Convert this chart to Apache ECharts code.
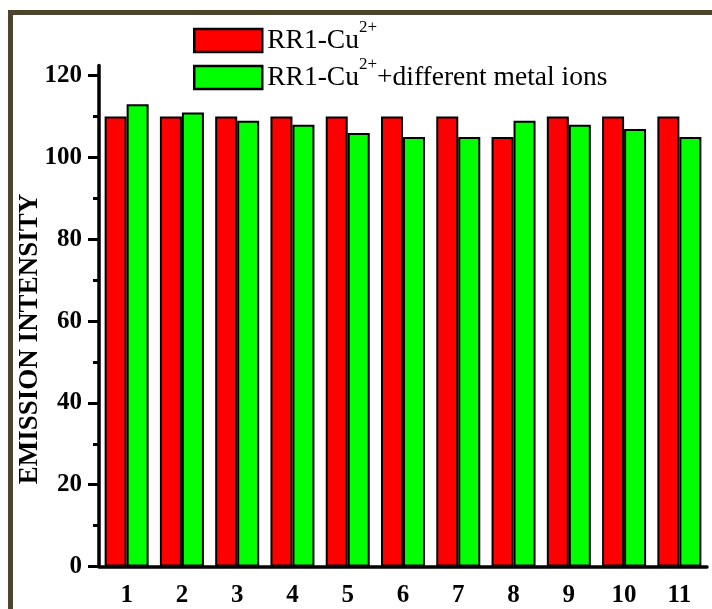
<!DOCTYPE html>
<html>
<head>
<meta charset="utf-8">
<script src="https://cdn.jsdelivr.net/npm/echarts@6/dist/echarts.min.js"></script>
<style>
  html, body { margin: 0; padding: 0; background: #fff; }
  #chart { width: 712px; height: 609px; }
</style>
</head>
<body>
<div id="chart"></div>
<script>
// Sample numbers on the x axis
const categories = ['1', '2', '3', '4', '5', '6', '7', '8', '9', '10', '11'];
// Emission intensity of the copper complex alone
const copperOnly = [110, 110, 110, 110, 110, 110, 110, 105, 110, 110, 110];
// Emission intensity after adding the other metal ions
const withMetalIons = [113, 111, 109, 108, 106, 105, 105, 109, 108, 107, 105];
// Y axis tick values
const majorTicks = [0, 20, 40, 60, 80, 100, 120];
const minorTicks = [10, 30, 50, 70, 90, 110];
const seriesNames = ['RR1-Cu2+', 'RR1-Cu2+ + different metal ions'];

const serif = '"Liberation Serif", "Times New Roman", serif';
const chart = echarts.init(document.getElementById('chart'));

chart.setOption({
  animation: false,
  backgroundColor: '#fff',
  grid: { left: 99, right: 5, top: 65.5, bottom: 42.5, containLabel: false, outerBoundsMode: 'none' },
  legend: {
    orient: 'vertical',
    left: 193,
    top: 19.5,
    padding: 0,
    icon: 'rect',
    itemWidth: 68,
    itemHeight: 23,
    itemGap: 1,
    selectedMode: false,
    itemStyle: { borderColor: '#000', borderWidth: 2.5 },
    formatter: name => name === seriesNames[0]
      ? '{a|RR1-Cu}{s|2+}'
      : '{a|RR1-Cu}{s|2+}{a|+different metal ions}',
    textStyle: {
      rich: {
        a: { fontFamily: serif, fontSize: 27.5, lineHeight: 30, color: '#000' },
        // raised charge label
        s: { fontFamily: serif, fontSize: 17, lineHeight: 6, verticalAlign: 'bottom', padding: [0, 0, 19, 0], color: '#000' }
      }
    }
  },
  xAxis: [
    {
      type: 'category',
      data: categories,
      position: 'bottom',
      axisLine: { lineStyle: { color: '#000', width: 3.5 } },
      axisTick: { alignWithLabel: true, length: 11, lineStyle: { color: '#000', width: 3 } },
      axisLabel: { fontFamily: serif, fontWeight: 'bold', fontSize: 25, color: '#000', margin: 17 },
      splitLine: { show: false }
    },
    {
      // short ticks on the category boundaries
      type: 'category',
      data: categories,
      position: 'bottom',
      axisLine: { show: false },
      axisTick: { length: 6, lineStyle: { color: '#000', width: 3 } },
      axisLabel: { show: false },
      splitLine: { show: false }
    }
  ],
  yAxis: [
    {
      type: 'value',
      min: 0,
      max: 122.5,
      position: 'left',
      axisLine: { show: true, lineStyle: { color: '#000', width: 3.5 } },
      axisTick: { show: true, length: 11, customValues: majorTicks, lineStyle: { color: '#000', width: 3 } },
      axisLabel: { customValues: majorTicks, fontFamily: serif, fontWeight: 'bold', fontSize: 25, color: '#000', margin: 17 },
      splitLine: { show: false }
    },
    {
      // minor ticks between labelled values
      type: 'value',
      min: 0,
      max: 122.5,
      position: 'left',
      axisLine: { show: false },
      axisTick: { show: true, length: 6, customValues: minorTicks, lineStyle: { color: '#000', width: 3 } },
      axisLabel: { show: false },
      splitLine: { show: false }
    }
  ],
  series: [
    {
      type: 'bar',
      name: seriesNames[0],
      data: copperOnly,
      barWidth: 22,
      barGap: '0%',
      itemStyle: { color: '#ff0000', borderColor: '#000', borderWidth: 2 }
    },
    {
      type: 'bar',
      name: seriesNames[1],
      data: withMetalIons,
      barWidth: 22,
      barGap: '0%',
      itemStyle: { color: '#00ff00', borderColor: '#000', borderWidth: 2 }
    }
  ],
  graphic: [
    {
      type: 'rect',
      silent: true,
      z: 100,
      shape: { x: 10.5, y: 12.5, width: 760, height: 660 },
      style: { fill: 'none', stroke: '#4c442c', lineWidth: 5 }
    },
    {
      type: 'text',
      x: 30,
      y: 339,
      rotation: Math.PI / 2,
      style: {
        text: 'EMISSION INTENSITY',
        font: 'bold 27px "Liberation Serif", "Times New Roman", serif',
        fill: '#000',
        align: 'center',
        verticalAlign: 'middle'
      }
    }
  ]
});
</script>
</body>
</html>
